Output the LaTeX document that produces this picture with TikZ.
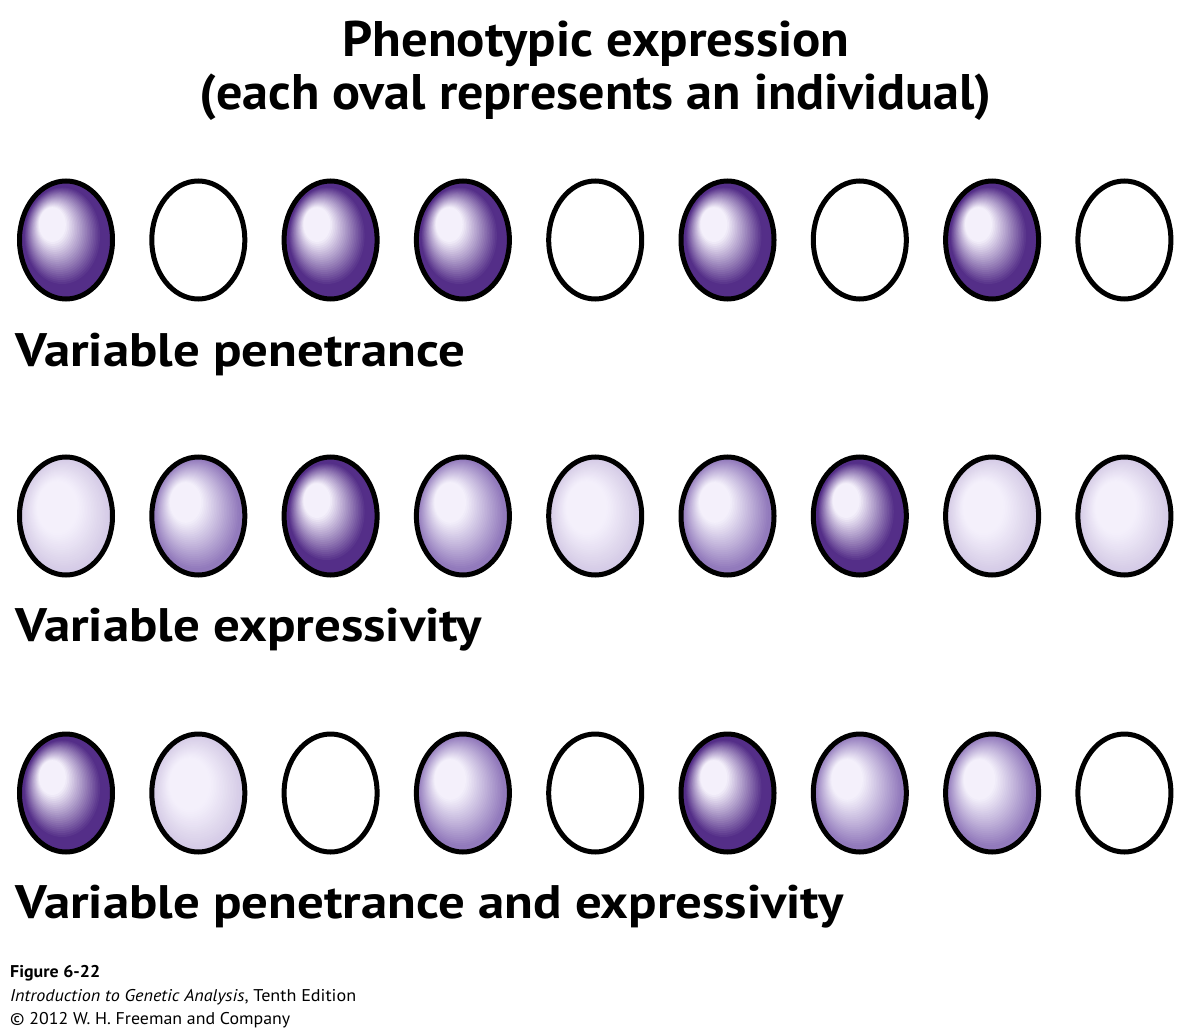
\documentclass[tikz,border=0pt]{standalone}
\usepackage{fontspec}
\usepackage{graphicx}
\setmainfont{PT Sans}
\usetikzlibrary{shapes.geometric}
\definecolor{hlc}{RGB}{244,240,251}
\definecolor{dk}{RGB}{84,46,136}
\definecolor{md}{RGB}{146,122,188}
\definecolor{lt}{RGB}{212,202,230}
% concentric bands from the edge colour #1 towards the highlight
% #2,#3: band fractions where the fade starts and ends; #4,#5: highlight shift
\newcommand\eggfill[5]{%
  \foreach \k in {0,...,32}{%
    \pgfmathsetmacro\t{\k/32}%
    \pgfmathsetmacro\p{100*min(1,max(0,(\t-#2)/(#3-#2)))}%
    \fill[hlc!\p!#1] ([shift={({#4*\t*1pt},{#5*\t*1pt})}]path picture bounding box.center)
      ellipse ({(47-37*\t)*1pt} and {(60-47*\t)*1pt});
  }}
\tikzset{
  egg/.style={ellipse, draw=black, line width=5pt, minimum width=93pt, minimum height=118pt, inner sep=0pt},
  ND/.style={egg, path picture={\eggfill{dk}{0.22}{0.9}{-15}{17}}},
  NM/.style={egg, path picture={\eggfill{md}{0.1}{0.84}{-15}{16}}},
  NL/.style={egg, path picture={\eggfill{lt}{0.05}{0.7}{-12}{12}}},
  NW/.style={egg, fill=white},
  lab/.style={anchor=base west, inner sep=0pt, font=\fontsize{47}{56}\selectfont\bfseries},
  ttl/.style={anchor=base, inner sep=0pt, font=\fontsize{50}{60}\selectfont\bfseries},
  captxt/.style={anchor=base west, inner sep=0pt, font=\fontsize{17}{20}\selectfont}
}
\newcommand\fitw[2]{\resizebox{#1}{\height}{#2}}
\begin{document}
\begin{tikzpicture}[x=1pt, y=-1pt]
\useasboundingbox (0,0) rectangle (1191,1032);
% title
\node[ttl] (t1) at (596,57) {\fitw{507pt}{Phenotypic expression}};
\node[ttl] (t2) at (596,110) {\fitw{792pt}{(each oval represents an individual)}};
% row 1: variable penetrance
\foreach \s [count=\i] in {ND,NW,ND,ND,NW,ND,NW,ND,NW}
  \node[\s] (a\i) at ({66+(\i-1)*132.3},240) {};
\node[lab] (l1) at (15,366) {\fitw{450pt}{Variable penetrance}};
% row 2: variable expressivity
\foreach \s [count=\i] in {NL,NM,ND,NM,NL,NM,ND,NL,NL}
  \node[\s] (b\i) at ({66+(\i-1)*132.3},516) {};
\node[lab] (l2) at (15,641) {\fitw{467pt}{Variable expressivity}};
% row 3: both
\foreach \s [count=\i] in {ND,NL,NW,NM,NW,ND,NM,NM,NW}
  \node[\s] (c\i) at ({66+(\i-1)*132.3},793) {};
\node[lab] (l3) at (15,918) {\fitw{828pt}{Variable penetrance and expressivity}};
% caption
\node[captxt, font=\fontsize{17}{20}\selectfont\bfseries] (f1) at (10,977) {\fitw{90pt}{Figure 6-22}};
\node[captxt] (f2) at (10,1001) {\fitw{346pt}{\textit{Introduction to Genetic Analysis}, Tenth Edition}};
\node[captxt] (f3) at (10,1024) {\fitw{280pt}{© 2012 W. H. Freeman and Company}};
\end{tikzpicture}
\end{document}
